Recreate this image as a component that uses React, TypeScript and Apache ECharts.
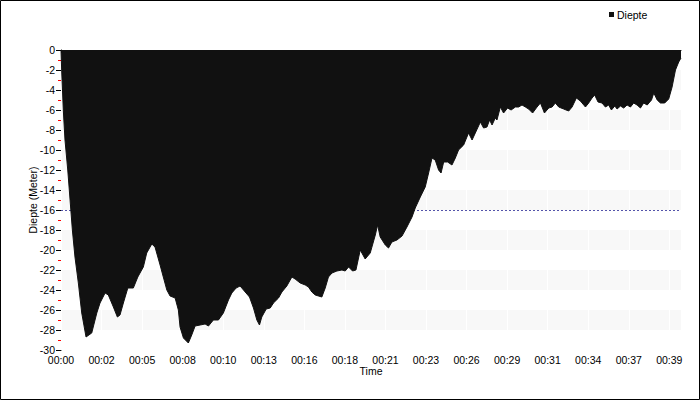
import React, { useEffect, useRef } from 'react';
import * as echarts from 'echarts';

const seriesName = 'Diepte';

// elapsed dive time in minutes
const timeMin = [
  0, 0.05, 0.15, 0.26, 0.44, 0.59, 0.74, 0.91, 1.13, 1.35,
  1.63, 2.0, 2.33, 2.54, 2.87, 3.08, 3.41, 3.67, 3.84, 4.06,
  4.35, 4.71, 5.0, 5.36, 5.58, 5.91, 6.12, 6.45, 6.66, 6.89,
  7.1, 7.43, 7.64, 7.75, 7.97, 8.29, 8.51, 8.73, 9.06, 9.38,
  9.6, 9.92, 10.25, 10.57, 10.9, 11.12, 11.4, 11.66, 11.99, 12.27,
  12.53, 12.75, 12.92, 13.07, 13.36, 13.62, 13.83, 14.16, 14.38, 14.7,
  15.03, 15.24, 15.57, 15.9, 16.11, 16.33, 16.55, 16.98, 17.2, 17.41,
  17.64, 17.96, 18.29, 18.5, 18.72, 18.98, 19.2, 19.48, 19.8, 20.13,
  20.46, 20.61, 20.78, 21.11, 21.32, 21.54, 21.87, 22.2, 22.52, 22.85,
  23.06, 23.39, 23.71, 23.93, 24.15, 24.36, 24.58, 24.74, 24.91, 25.17,
  25.45, 25.67, 25.88, 26.21, 26.53, 26.76, 26.97, 27.3, 27.51, 27.73,
  27.9, 28.06, 28.27, 28.38, 28.6, 28.81, 29.07, 29.3, 29.58, 29.79,
  30.01, 30.23, 30.44, 30.7, 30.99, 31.21, 31.47, 31.75, 31.97, 32.18,
  32.4, 32.72, 33.05, 33.27, 33.55, 33.81, 34.14, 34.35, 34.57, 34.74,
  34.96, 35.22, 35.44, 35.65, 35.83, 36.05, 36.2, 36.42, 36.63, 36.85,
  37.07, 37.28, 37.5, 37.72, 37.93, 38.16, 38.44, 38.59, 38.81, 39.02,
  39.3, 39.56, 39.78, 40.0, 40.21, 40.36,
];

// depth in metres (negative = below surface)
const depth = [
  0, -2.3, -6, -9, -12, -15, -18, -20.7, -23.3, -26.3,
  -28.7, -28.3, -26.3, -25.3, -24.3, -24.5, -25.7, -26.7, -26.5, -25.3,
  -23.8, -23.8, -22.7, -21.7, -20.3, -19.4, -19.7, -21.5, -22.7, -24,
  -24.6, -24.8, -26, -27.7, -28.8, -29.3, -28.5, -27.6, -27.5, -27.4,
  -27.6, -27, -27, -26.3, -25, -24.3, -23.8, -23.6, -24.2, -24.7,
  -25.8, -27, -27.5, -26.7, -25.9, -25.8, -25.3, -24.8, -24.2, -23.6,
  -22.7, -22.9, -23.3, -23.5, -23.7, -24.2, -24.5, -24.7, -23.8, -22.7,
  -22.3, -22.1, -22, -22.1, -21.7, -22.1, -22, -20, -20.9, -20.3,
  -18.5, -17.5, -18.7, -19.5, -19.8, -19.2, -19, -18.6, -17.7, -16.7,
  -15.8, -14.7, -13.7, -12.3, -10.8, -11, -12, -12.3, -11.2, -11.2,
  -11.5, -10.8, -10, -9.5, -8.3, -9, -8.3, -7.2, -7.8, -7.7,
  -7, -7.5, -6.8, -7, -5.7, -6.3, -5.8, -6, -5.7, -5.7,
  -5.5, -5.7, -5.9, -6.3, -5.7, -5.3, -6.3, -5.8, -5.7, -5.3,
  -5.7, -5.9, -6.1, -5.7, -4.8, -5.1, -5.7, -5.3, -4.8, -4.5,
  -5.2, -5.3, -5.7, -5.5, -6, -5.6, -5.9, -5.6, -5.8, -5.5,
  -5.7, -5.3, -5.5, -5.8, -5.3, -5.5, -5, -4.3, -5, -5.3,
  -5.3, -4.9, -3.7, -2, -1.2, -0.8,
];

const xTickStep = 2.64;
const xMax = 40.36;
const xTickLabels = [
  '00:00', '00:02', '00:05', '00:08', '00:10', '00:13', '00:16', '00:18',
  '00:21', '00:23', '00:26', '00:29', '00:31', '00:34', '00:37', '00:39',
];

const yMin = -30;
const yMax = 0;
const yStep = 2;
const referenceDepth = -16;

export default function App() {
  const ref = useRef<HTMLDivElement>(null);

  useEffect(() => {
    document.body.style.margin = '0';
    if (!ref.current) return;
    const chart = echarts.init(ref.current, null, { renderer: 'svg' });
    const font = 'Liberation Sans';
    const fs = 10.5;
    const tickVals = xTickLabels.map((_, i) => +(i * xTickStep).toFixed(4));

    chart.setOption({
      animation: false,
      backgroundColor: '#ffffff',
      textStyle: { fontFamily: font, color: '#000' },
      grid: { left: 61, right: 19, top: 50, bottom: 50 },
      legend: {
        data: [seriesName],
        left: 609,
        top: 9,
        padding: 0,
        icon: 'rect',
        itemWidth: 5,
        itemHeight: 5,
        itemGap: 4,
        textStyle: { fontFamily: font, fontSize: fs, color: '#000', padding: [0, 0, 0, -2] },
      },
      xAxis: {
        type: 'value',
        min: 0,
        max: xMax,
        interval: xTickStep,
        z: 1,
        name: 'Time',
        nameLocation: 'middle',
        nameGap: 16,
        nameMoveOverlap: false,
        nameTextStyle: { fontFamily: font, fontSize: fs, color: '#000', lineHeight: 10 },
        axisLine: { show: true, lineStyle: { color: '#000', width: 1 } },
        axisTick: {
          show: true,
          length: 3,
          customValues: tickVals,
          lineStyle: { color: '#000' },
        },
        minorTick: {
          show: true,
          splitNumber: 20,
          length: 2,
          lineStyle: { color: '#999' },
        },
        axisLabel: {
          customValues: tickVals,
          margin: 4,
          lineHeight: 11,
          color: '#000',
          fontFamily: font,
          fontSize: fs,
          formatter: (v: number) => xTickLabels[Math.round(v / xTickStep)] ?? '',
        },
        splitLine: { show: true, lineStyle: { color: '#ffffff', width: 1 } },
      },
      yAxis: {
        type: 'value',
        min: yMin,
        max: yMax,
        interval: yStep,
        name: 'Diepte (Meter)',
        nameLocation: 'middle',
        nameGap: 23,
        nameRotate: 90,
        nameMoveOverlap: false,
        nameTextStyle: { fontFamily: font, fontSize: fs, color: '#000' },
        axisLine: { show: true, lineStyle: { color: '#000', width: 1 } },
        axisTick: { show: true, length: 5, lineStyle: { color: '#000' } },
        minorTick: {
          show: true,
          splitNumber: 2,
          length: 3,
          lineStyle: { color: '#ff0000' },
        },
        axisLabel: { margin: 6, lineHeight: 8, color: '#000', fontFamily: font, fontSize: fs },
        splitLine: { show: false },
        splitArea: {
          show: true,
          areaStyle: { color: ['rgba(255,255,255,0)', '#f8f8f8'] },
        },
      },
      series: [
        {
          name: seriesName,
          type: 'line',
          z: 10,
          data: timeMin.map((t, i) => [t, depth[i]]),
          symbol: 'none',
          showSymbol: false,
          lineStyle: { color: '#111111', width: 1 },
          itemStyle: { color: '#111111' },
          areaStyle: { color: '#111111', opacity: 1, origin: 'end' },
        },
        {
          name: 'ref',
          type: 'line',
          z: 1,
          data: [[0, referenceDepth]],
          symbol: 'none',
          showSymbol: false,
          lineStyle: { width: 0 },
          markLine: {
            silent: true,
            z: 1,
            symbol: 'none',
            label: { show: false },
            lineStyle: { color: '#5555aa', type: [2, 2], width: 1 },
            data: [{ yAxis: referenceDepth }],
          },
        },
      ],
      graphic: [
        {
          type: 'rect',
          silent: true,
          z: 100,
          shape: { x: 0.5, y: 0.5, width: 699, height: 399 },
          style: { fill: 'none', stroke: '#000', lineWidth: 1 },
        },
      ],
    });

    return () => chart.dispose();
  }, []);

  return <div ref={ref} style={{ width: 700, height: 400 }} />;
}
